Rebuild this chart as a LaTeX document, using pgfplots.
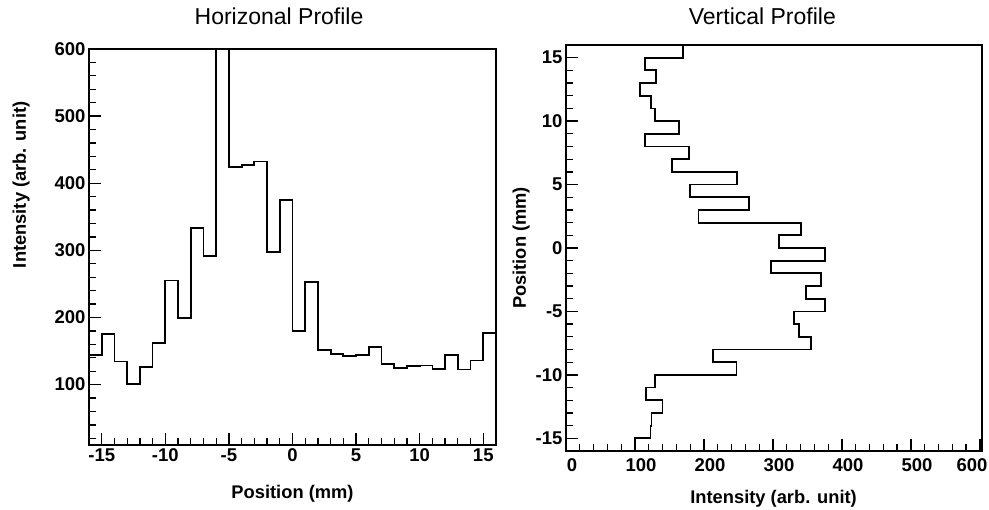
\documentclass[border=0pt]{standalone}
\usepackage{fontspec}
\setmainfont{Liberation Sans}
\usepackage{pgfplots}
\pgfplotsset{compat=1.18}

\pgfplotsset{
  rootstyle/.style={
    scale only axis,
    clip=false,
    axis line style={line width=1.6pt},
    tick align=inside, tick pos=left,
    major tick length=12pt, minor tick length=7pt,
    every tick/.style={black, line width=1.3pt},
    ticklabel style={font=\fontsize{18.5}{18.5}\selectfont\bfseries},
    label style={font=\fontsize{18.3}{18.3}\selectfont\bfseries},
    title style={font=\fontsize{23}{23}\selectfont, anchor=center},
  },
  histo/.style={black, line width=1.8pt, no marks},
}

\begin{document}
\begin{tikzpicture}
\useasboundingbox (-89pt,-65pt) rectangle (900pt,445pt);

% horizontal profile
\begin{axis}[rootstyle,
    at={(0pt,0pt)}, anchor=south west,
    width=407pt, height=396pt,
    xmin=-16, xmax=16, ymin=10, ymax=600,
    xtick={-15,-10,-5,0,5,10,15},
    xticklabels={-15,-10,-5,0,5,10,15},
    minor xtick={-15,...,15},
    ytick={100,200,300,400,500,600},
    yticklabels={100,200,300,400,500,600},
    minor ytick={20,40,...,580},
    title={Horizonal Profile},
    title style={at={(axis description cs:0.467,1.068)}},
    xlabel={Position (mm)},
    xlabel style={at={(axis description cs:0.5,-0.124)}, anchor=center},
    ylabel={Intensity (arb. unit)},
    ylabel style={at={(axis description cs:-0.167,0.657)}, anchor=center},
]
\addplot[histo, const plot mark left] table {
x y
-16 143.5
-15 175
-14 134.5
-13 101
-12 126.5
-11 162
-10 255
-9 199.5
-8 333.5
-7 291.5
-6 600
-5 424.5
-4 427.5
-3 432.5
-2 297.5
-1 375.5
0 180
1 253
2 152
3 145.5
4 142.5
5 143.5
6 155.5
7 130.5
8 124.5
9 127.5
10 128.5
11 123.5
12 144
13 122.5
14 136
15 176.5
16 176.5
};
\end{axis}

% vertical profile
\begin{axis}[rootstyle,
    at={(477pt,-6pt)}, anchor=south west,
    width=416pt, height=406pt,
    xmin=0, xmax=603, ymin=-16, ymax=16,
    xtick={0,100,200,300,400,500,600},
    xticklabels={0,100,200,300,400,500,{\hspace*{-28pt}600}},
    xticklabel style={xshift=6pt, yshift=-4pt},
    minor xtick={20,40,...,600},
    ytick={-15,-10,-5,0,5,10,15},
    yticklabels={-15,-10,-5,0,5,10,15},
    minor ytick={-15,...,15},
    title={Vertical Profile},
    title style={at={(axis description cs:0.472,1.057)}},
    xlabel={Intensity (arb. unit)},
    xlabel style={at={(axis description cs:0.499,-0.118)}, anchor=center},
    ylabel={Position (mm)},
    ylabel style={at={(axis description cs:-0.108,0.5)}, anchor=center},
]
\addplot[histo, const plot mark right] table {
x y
100 -16
122.6 -15
124 -14
140 -13
116 -12
128.7 -11
247 -10
213 -9
354.6 -8
337.7 -7
330 -6
375.4 -5
347.4 -4
370 -3
297 -2
375.4 -1
308.7 0
340.6 1
192 2
265.8 3
180.3 4
247.3 5
153.5 6
177.8 7
114.7 8
163.7 9
128.7 10
123 11
107 12
131 13
115 14
169.5 15
169.5 16
};
\end{axis}
\end{tikzpicture}
\end{document}
